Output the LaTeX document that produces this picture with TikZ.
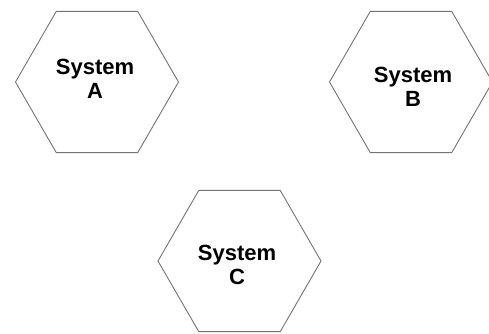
\documentclass[tikz,border=0pt]{standalone}
\usepackage{fontspec}
\setmainfont{Liberation Sans}
\usetikzlibrary{shapes.geometric}

\tikzset{
    hexa/.style={draw=black!55, line width=0.9pt, regular polygon, regular polygon sides=6,
        minimum size=163pt, inner sep=0pt},
    syslabel/.style={align=center, inner sep=0pt, font=\fontsize{22}{24}\selectfont\bfseries}
}

\begin{document}
\begin{tikzpicture}[x=1pt, y=-1pt]
    \useasboundingbox (0,0) rectangle (489,333);

    % Sistemi in alto
    \node[hexa] (sysA) at (97,82) {};
    \node[syslabel] (txtA) at (95,79) {System\\A};

    \node[hexa] (sysB) at (411,82) {};
    \node[syslabel] (txtB) at (413,87) {System\\B};

    % Sistema in basso
    \node[hexa] (sysC) at (239.5,261) {};
    \node[syslabel] (txtC) at (237,265) {System\\C};

\end{tikzpicture}
\end{document}
